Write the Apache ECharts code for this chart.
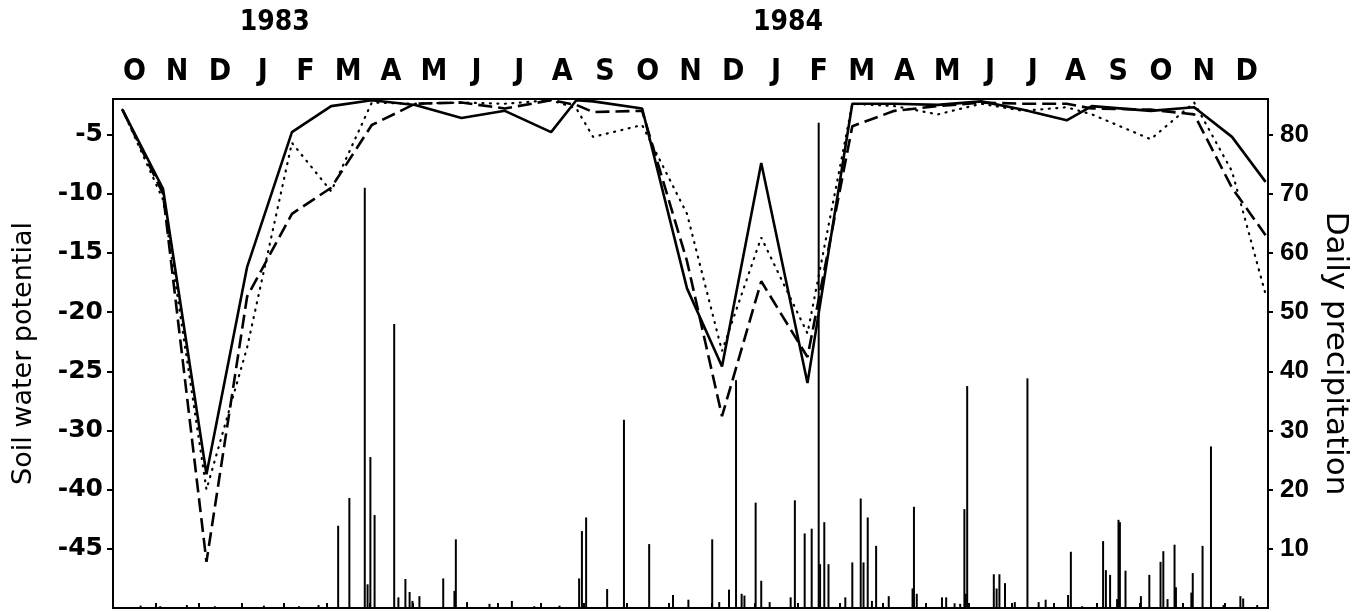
<!DOCTYPE html>
<html><head><meta charset="utf-8">
<script src="https://cdn.jsdelivr.net/npm/echarts@6/dist/echarts.min.js"></script>
<style>html,body{margin:0;padding:0;background:#fff}#c{width:1365px;height:612px}</style>
</head><body><div id="c"></div>
<script>
// Month labels along the top (Oct 1982 – Dec 1984)
const monthLabels = ['O','N','D','J','F','M','A','M','J','J','A','S','O','N','D','J','F','M','A','M','J','J','A','S','O','N','D'];
const yearLabels = ['','','','1983','','','','','','','','','','','','1984','','','','','','','','','','',''];
// Left axis: tick positions (linear drawn scale) and the labels printed at them
const potentialTickValues = [-5,-10,-15,-20,-25,-30,-35,-40];
const potentialTickLabels = ['-5','-10','-15','-20','-25','-30','-40','-45'];
const precipTickValues = [10,20,30,40,50,60,70,80];

// Soil water potential sampling dates
const lineDates = ['1982-10-07','1982-11-05','1982-12-06','1983-01-04','1983-02-05','1983-03-05','1983-04-03','1983-05-04','1983-06-06','1983-07-07','1983-08-09','1983-08-27','1983-09-08','1983-10-13','1983-11-14','1983-12-09','1984-01-06','1984-02-08','1984-03-11','1984-04-10','1984-05-11','1984-06-11','1984-07-11','1984-08-11','1984-08-29','1984-10-10','1984-11-10','1984-12-07','1984-12-31'];
const solidSeries  = [-2.9,-9.6,-33.7,-16.2,-4.8,-2.6,-2.1,-2.5,-3.6,-3.0,-4.8,-2.1,-2.2,-2.8,-18.0,-24.6,-7.4,-26.0,-2.4,-2.4,-2.5,-2.2,-2.9,-3.8,-2.6,-3.0,-2.7,-5.2,-9.0];
const dashedSeries = [-2.9,-10.0,-41.1,-18.7,-11.7,-9.5,-4.2,-2.4,-2.3,-2.8,-2.1,-2.5,-3.1,-3.0,-15.7,-28.8,-17.4,-23.8,-4.3,-3.0,-2.6,-2.3,-2.4,-2.4,-2.8,-2.9,-3.3,-9.5,-13.5];
const dottedSeries = [-2.9,-10.5,-35.0,-23.0,-5.7,-9.8,-2.3,-2.4,-2.3,-2.4,-2.1,-2.8,-5.2,-4.2,-11.7,-23.3,-13.7,-21.8,-2.4,-2.6,-3.3,-2.4,-3.0,-2.7,-3.3,-5.4,-2.3,-8.1,-18.5];

// Daily precipitation
const rainDates = ['1982-10-20','1982-11-03','1982-11-22','1982-12-12','1983-01-16','1983-02-10','1983-02-24','1983-03-10','1983-03-18','1983-03-29','1983-03-31','1983-04-02','1983-04-05','1983-04-19','1983-04-22','1983-04-27','1983-04-30','1983-05-02','1983-05-07','1983-05-24','1983-06-01','1983-06-02','1983-06-10','1983-06-26','1983-07-12','1983-07-28','1983-08-15','1983-08-29','1983-08-31','1983-09-03','1983-09-18','1983-09-30','1983-10-18','1983-11-04','1983-11-15','1983-12-02','1983-12-07','1983-12-14','1983-12-19','1983-12-23','1983-12-25','1984-01-02','1984-01-06','1984-01-12','1984-01-27','1984-01-30','1984-02-06','1984-02-11','1984-02-16','1984-02-17','1984-02-20','1984-02-23','1984-03-06','1984-03-11','1984-03-17','1984-03-19','1984-03-22','1984-03-25','1984-03-28','1984-04-06','1984-04-23','1984-04-24','1984-04-26','1984-05-14','1984-05-17','1984-05-23','1984-05-27','1984-05-30','1984-05-31','1984-06-01','1984-06-20','1984-06-22','1984-06-24','1984-06-28','1984-07-05','1984-07-14','1984-07-22','1984-07-27','1984-08-12','1984-08-14','1984-08-22','1984-09-06','1984-09-08','1984-09-11','1984-09-16','1984-09-17','1984-09-18','1984-09-22','1984-10-03','1984-10-09','1984-10-17','1984-10-19','1984-10-22','1984-10-27','1984-10-28','1984-11-08','1984-11-09','1984-11-16','1984-11-22','1984-12-01','1984-12-13','1984-12-15','1984-12-25'];
const rainValues = [0.4,0.3,0.5,0.3,0.4,0.3,0.5,13.9,18.6,71,4.0,25.5,15.7,48,1.8,4.9,2.7,1.2,2.0,5.0,2.9,11.6,1.0,0.7,1.2,0.3,0.4,5.0,13.0,15.3,3.2,31.8,10.8,2.2,1.4,11.6,1.0,3.1,38.5,2.4,2.1,17.8,4.6,1.0,1.8,18.2,12.6,13.4,82,7.4,14.5,7.4,1.8,7.7,18.5,7.7,15.3,1.2,10.5,2.0,3.3,17.1,2.4,1.8,1.8,0.8,0.7,16.7,2.4,37.5,5.7,3.3,5.7,4.2,1.0,38.8,1.0,1.4,2.2,9.5,0.3,11.3,6.4,5.6,1.5,14.9,14.5,6.3,2.0,5.6,7.8,9.6,1.5,10.7,3.5,2.6,5.9,10.5,27.3,0.5,2.0,1.6,0.5];

const NARROW = "'Liberation Sans Narrow','DejaVu Sans Condensed','Liberation Sans',sans-serif";
const TICKF = "'DejaVu Sans','Liberation Sans',sans-serif";
const black = '#000';

const chart = echarts.init(document.getElementById('c'), null, {renderer: 'canvas'});
const pair = (d, v) => d.map((x, i) => [x, v[i]]);

chart.setOption({
  animation: false,
  backgroundColor: '#fff',
  grid: {left: 113, right: 97, top: 99, bottom: 4, show: true, borderColor: black, borderWidth: 2, backgroundColor: 'transparent'},
  xAxis: [
    {type: 'category', data: monthLabels, position: 'top', boundaryGap: true,
     axisLine: {lineStyle: {color: black, width: 2}},
     axisTick: {show: true, inside: false, length: 5, lineStyle: {color: black, width: 2}},
     axisLabel: {interval: 0, color: black, fontSize: 30, fontWeight: 'bold', fontFamily: NARROW, margin: 12},
     splitLine: {show: false}},
    {type: 'category', data: yearLabels, position: 'top', boundaryGap: true,
     axisLine: {show: false}, axisTick: {show: false},
     axisLabel: {interval: 0, color: black, fontSize: 28, fontWeight: 'bold', fontFamily: NARROW, margin: 62, padding: [0, 0, 0, 24]},
     splitLine: {show: false}},
    {type: 'time', min: '1982-10-01', max: '1985-01-01', show: false, splitLine: {show: false}}
  ],
  yAxis: [
    {type: 'value', min: -45, max: -2, interval: 5, position: 'left',
     axisLine: {show: true, lineStyle: {color: black, width: 2}},
     axisTick: {show: true, length: 6, customValues: potentialTickValues, lineStyle: {color: black, width: 2}},
     axisLabel: {customValues: potentialTickValues, color: black, fontSize: 25, fontWeight: 'bold', fontFamily: TICKF, margin: 10,
       formatter: v => { const i = potentialTickValues.indexOf(Math.round(v)); return i >= 0 ? potentialTickLabels[i] : ''; }},
     splitLine: {show: false},
     name: 'Soil water potential', nameLocation: 'middle', nameRotate: 90, nameGap: 76,
     nameTextStyle: {color: black, fontSize: 27, fontFamily: TICKF}},
    {type: 'value', min: 0, max: 86, interval: 10, position: 'right',
     axisLine: {show: true, lineStyle: {color: black, width: 2}},
     axisTick: {show: true, length: 5, customValues: precipTickValues, lineStyle: {color: black, width: 2}},
     axisLabel: {customValues: precipTickValues, color: black, fontSize: 26, fontWeight: 'bold', fontFamily: "'Liberation Sans',sans-serif", margin: 12,
       formatter: v => (v > 0 && v <= 80 && v % 10 === 0) ? String(v) : ''},
     splitLine: {show: false},
     name: 'Daily precipitation', nameLocation: 'middle', nameRotate: -90, nameGap: 50,
     nameTextStyle: {color: black, fontSize: 31, fontFamily: TICKF}}
  ],
  series: [
    {type: 'bar', name: 'precipitation', xAxisIndex: 2, yAxisIndex: 1, barWidth: 2,
     itemStyle: {color: black}, data: pair(rainDates, rainValues)},
    {type: 'line', name: 'solid', xAxisIndex: 2, yAxisIndex: 0, showSymbol: false,
     lineStyle: {color: black, width: 2.6, type: 'solid'}, data: pair(lineDates, solidSeries)},
    {type: 'line', name: 'dashed', xAxisIndex: 2, yAxisIndex: 0, showSymbol: false,
     lineStyle: {color: black, width: 2.6, type: [14, 6]}, data: pair(lineDates, dashedSeries)},
    {type: 'line', name: 'dotted', xAxisIndex: 2, yAxisIndex: 0, showSymbol: false,
     lineStyle: {color: black, width: 2.2, type: [1, 6.5], cap: 'round'}, data: pair(lineDates, dottedSeries)}
  ]
});
</script>
</body></html>
